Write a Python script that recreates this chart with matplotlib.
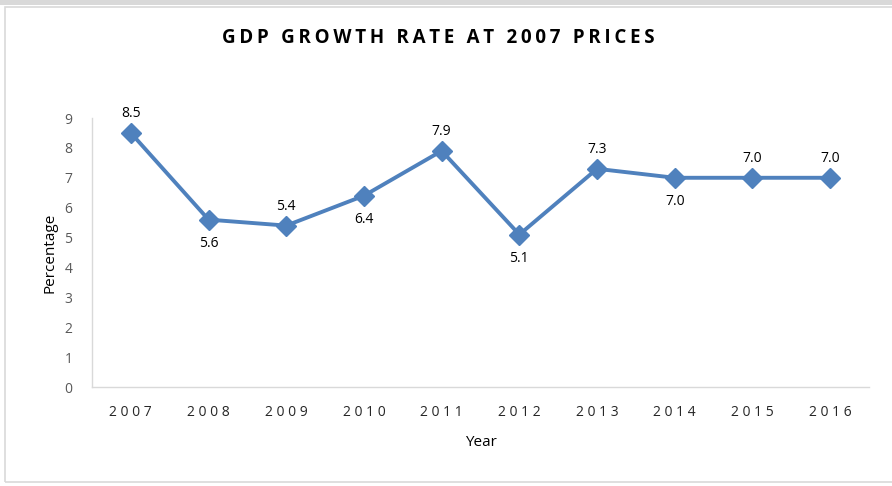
import numpy as np
import matplotlib.pyplot as plt
from matplotlib.patches import Rectangle

years = ['2007', '2008', '2009', '2010', '2011', '2012', '2013', '2014', '2015', '2016']
growth = [8.5, 5.6, 5.4, 6.4, 7.9, 5.1, 7.3, 7.0, 7.0, 7.0]
label_pos = ['above', 'below', 'above', 'below', 'above', 'below', 'above', 'below', 'above', 'above']

plt.rcParams['font.family'] = ['Open Sans', 'DejaVu Sans']

W, H = 892, 486
fig = plt.figure(figsize=(W / 100, H / 100), dpi=100)

# chart frame like the excel export
fig.patches.append(Rectangle((0, 1 - 5 / H), 1, 5 / H, transform=fig.transFigure,
                             facecolor='#d9d9d9', edgecolor='none'))
fig.patches.append(Rectangle((5 / W, 4 / H), 1.0, 1 - 11 / H, transform=fig.transFigure,
                             facecolor='none', edgecolor='#d9d9d9', linewidth=1.2))

ax = fig.add_axes([92 / W, 1 - 387 / H, (869 - 92) / W, (387 - 118) / H])
x = np.arange(len(years))
ax.plot(x, growth, color='#4f81bd', linewidth=2.8, marker='D', markersize=10,
        markerfacecolor='#4f81bd', markeredgecolor='#4f81bd', zorder=3)

for xi, v, p in zip(x, growth, label_pos):
    off = 14 if p == 'above' else -17
    ax.annotate(f'{v:.1f}', (xi, v), xytext=(0, off), textcoords='offset points',
                ha='center', va='center', fontsize=10, color='#000000')

ax.set_xlim(-0.5, len(years) - 0.5)
ax.set_ylim(0, 9)
ax.set_yticks(range(0, 10))
ax.set_xticks(x)
ax.set_xticklabels([' '.join(y) for y in years], fontsize=10, color='#262626')
ax.tick_params(axis='y', length=0, labelsize=10, labelcolor='#595959', pad=14)
ax.tick_params(axis='x', length=0, pad=13)
for s in ['top', 'right']:
    ax.spines[s].set_visible(False)
for s in ['left', 'bottom']:
    ax.spines[s].set_color('#d9d9d9')
    ax.spines[s].set_linewidth(1)

ax.set_ylabel('Percentage', fontsize=11, color='#000000', labelpad=5)
ax.set_xlabel('Year', fontsize=11, color='#000000', labelpad=11)

title = '\u2009'.join('GDP GROWTH RATE AT 2007 PRICES')
fig.text(438 / W, 1 - 38 / H, title, ha='center', va='center', fontsize=13.5,
         fontweight='bold', color='#000000')

fig.savefig('out.png', dpi=100)
